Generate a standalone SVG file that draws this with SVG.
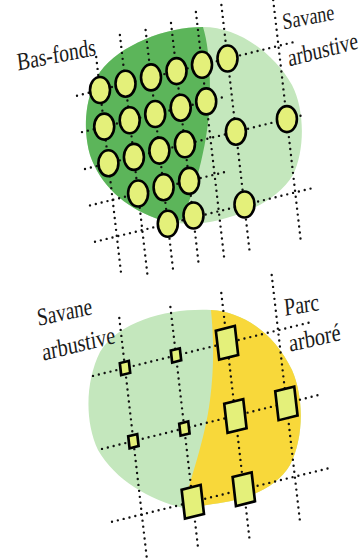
<svg xmlns="http://www.w3.org/2000/svg" width="363" height="560" viewBox="0 0 363 560">
  <style>
    .grid { fill: none; stroke: #111; stroke-width: 2.4; stroke-linecap: round; stroke-dasharray: 0 6; }
    .tree { fill: #e4f07a; stroke: #000; stroke-width: 2.6; }
    .lbl { font-family: "Liberation Serif", "DejaVu Serif", serif; font-size: 25px; fill: #1a1a1a; }
  </style>

  <!-- upper plot: lowland (dark) and shrub savanna (light) -->
  <g id="zone-top">
    <path d="M203,27 C240,27 275,55 292,85 C305,110 305,150 293,175 C278,200 245,215 210,222 C190,225 170,224 155,218 C125,207 100,185 90,155 C82,125 86,95 100,72 C120,45 165,27 203,27 Z" fill="#c4e7bd"/>
    <path d="M203,27 C165,27 120,45 100,72 C86,95 82,125 90,155 C100,185 125,207 155,218 C165,222 175,223 182,219 C195,190 210,140 210,90 C210,60 207,40 203,27 Z" fill="#5cb55a"/>
  </g>

  <!-- lower plot: shrub savanna (light) and parkland (yellow) -->
  <g id="zone-bottom">
    <path d="M211,310 C245,312 275,335 292,370 C305,400 303,440 290,465 C275,490 245,500 213,504 C200,506 190,508 183,508 C150,500 115,480 98,450 C84,420 86,380 100,352 C120,320 170,308 211,310 Z" fill="#c4e7bd"/>
    <path d="M211,310 C245,312 275,335 292,370 C305,400 303,440 290,465 C275,490 245,500 213,504 C200,506 190,508 183,508 C190,480 205,440 210,400 C214,370 214,340 211,310 Z" fill="#f8d83a"/>
  </g>

  <!-- dotted survey grid -->
  <g id="connectors" class="grid">
    <!-- upper columns -->
    <line x1="96.2" y1="57" x2="121.5" y2="277"/>
    <line x1="119.9" y1="35" x2="147.7" y2="277"/>
    <line x1="145.6" y1="30" x2="173.1" y2="270"/>
    <line x1="171" y1="23" x2="199" y2="267"/>
    <line x1="195.9" y1="12" x2="224.4" y2="260"/>
    <line x1="221.4" y1="5" x2="249.8" y2="253"/>
    <line x1="273.2" y1="0" x2="300.9" y2="242"/>
    <!-- upper rows -->
    <line x1="77" y1="95.7" x2="297" y2="41.3"/>
    <line x1="82" y1="132.1" x2="222" y2="97.5"/>
    <line x1="85" y1="169" x2="303" y2="115.1"/>
    <line x1="90" y1="205.4" x2="227" y2="171.5"/>
    <line x1="95" y1="241.8" x2="313" y2="188"/>
    <!-- lower columns -->
    <line x1="119.3" y1="318" x2="146.7" y2="557"/>
    <line x1="170.4" y1="307" x2="198.3" y2="550"/>
    <line x1="221.3" y1="293" x2="249.4" y2="538"/>
    <line x1="271.7" y1="275" x2="300.4" y2="525"/>
    <!-- lower rows -->
    <line x1="93" y1="375.9" x2="313" y2="321.6"/>
    <line x1="102" y1="448.9" x2="323" y2="393.9"/>
    <line x1="112" y1="521.8" x2="332" y2="467.4"/>
  </g>

  <!-- upper plot trees -->
  <g id="c-0-0"><ellipse class="tree" cx="100" cy="90" rx="10" ry="13"/></g>
  <g id="c-1-0"><ellipse class="tree" cx="125.5" cy="83.7" rx="10" ry="13"/></g>
  <g id="c-2-0"><ellipse class="tree" cx="151" cy="77.4" rx="10" ry="13"/></g>
  <g id="c-3-0"><ellipse class="tree" cx="176.5" cy="71.1" rx="10" ry="13"/></g>
  <g id="c-4-0"><ellipse class="tree" cx="202" cy="64.8" rx="10" ry="13"/></g>
  <g id="c-5-0"><ellipse class="tree" cx="227.5" cy="58.5" rx="10" ry="13"/></g>

  <g id="c-0-1"><ellipse class="tree" cx="104.2" cy="126.6" rx="10" ry="13"/></g>
  <g id="c-1-1"><ellipse class="tree" cx="129.7" cy="120.3" rx="10" ry="13"/></g>
  <g id="c-2-1"><ellipse class="tree" cx="155.2" cy="114" rx="10" ry="13"/></g>
  <g id="c-3-1"><ellipse class="tree" cx="180.7" cy="107.7" rx="10" ry="13"/></g>
  <g id="c-4-1"><ellipse class="tree" cx="206.2" cy="101.4" rx="10" ry="13"/></g>

  <g id="c-0-2"><ellipse class="tree" cx="108.4" cy="163.2" rx="10" ry="13"/></g>
  <g id="c-1-2"><ellipse class="tree" cx="133.9" cy="156.9" rx="10" ry="13"/></g>
  <g id="c-2-2"><ellipse class="tree" cx="159.4" cy="150.6" rx="10" ry="13"/></g>
  <g id="c-3-2"><ellipse class="tree" cx="184.9" cy="144.3" rx="10" ry="13"/></g>
  <g id="c-5-2"><ellipse class="tree" cx="235.9" cy="131.7" rx="10" ry="13"/></g>
  <g id="c-7-2"><ellipse class="tree" cx="286.9" cy="119.1" rx="10" ry="13"/></g>

  <g id="c-1-3"><ellipse class="tree" cx="138.1" cy="193.5" rx="10" ry="13"/></g>
  <g id="c-2-3"><ellipse class="tree" cx="163.6" cy="187.2" rx="10" ry="13"/></g>
  <g id="c-3-3"><ellipse class="tree" cx="189.1" cy="180.9" rx="10" ry="13"/></g>

  <g id="c-2-4"><ellipse class="tree" cx="167.8" cy="223.8" rx="10" ry="13"/></g>
  <g id="c-3-4"><ellipse class="tree" cx="193.5" cy="215.5" rx="10" ry="13"/></g>
  <g id="c-5-4"><ellipse class="tree" cx="244.5" cy="204.5" rx="10" ry="13"/></g>

  <!-- lower plot trees (sheared to follow the grid) -->
  <g id="s-0-0" transform="translate(125,368) matrix(1,-0.247,0.115,1,0,0)"><rect class="tree" x="-4.5" y="-6" width="9" height="12"/></g>
  <g id="s-1-0" transform="translate(176,355.4) matrix(1,-0.247,0.115,1,0,0)"><rect class="tree" x="-4.5" y="-6" width="9" height="12"/></g>
  <g id="s-2-0" transform="translate(227,342.8) matrix(1,-0.247,0.115,1,0,0)"><rect class="tree" x="-9.5" y="-14.5" width="19" height="29"/></g>
  <g id="s-0-1" transform="translate(133.4,441.2) matrix(1,-0.247,0.115,1,0,0)"><rect class="tree" x="-4.5" y="-6" width="9" height="12"/></g>
  <g id="s-1-1" transform="translate(184.4,428.6) matrix(1,-0.247,0.115,1,0,0)"><rect class="tree" x="-4.5" y="-6" width="9" height="12"/></g>
  <g id="s-2-1" transform="translate(235.4,416) matrix(1,-0.247,0.115,1,0,0)"><rect class="tree" x="-9.5" y="-14.5" width="19" height="29"/></g>
  <g id="s-3-1" transform="translate(286.4,403.4) matrix(1,-0.247,0.115,1,0,0)"><rect class="tree" x="-9.5" y="-14.5" width="19" height="29"/></g>
  <g id="s-1-2" transform="translate(192.8,501.8) matrix(1,-0.247,0.115,1,0,0)"><rect class="tree" x="-9.5" y="-14.5" width="19" height="29"/></g>
  <g id="s-2-2" transform="translate(243.8,489.2) matrix(1,-0.247,0.115,1,0,0)"><rect class="tree" x="-9.5" y="-14.5" width="19" height="29"/></g>

  <!-- labels: condensed serif, tilted along the grid -->
  <g id="labels" class="lbl">
    <text transform="translate(18,70.5) scale(0.78,1) rotate(-8.7)" textLength="102" lengthAdjust="spacingAndGlyphs">Bas-fonds</text>
    <text transform="translate(283.3,29.5) scale(0.78,1) rotate(-8.5)" font-size="23" textLength="67" lengthAdjust="spacingAndGlyphs">Savane</text>
    <text transform="translate(289.3,66.5) scale(0.78,1) rotate(-11.5)" textLength="91" lengthAdjust="spacingAndGlyphs">arbustive</text>
    <text transform="translate(38.3,326) scale(0.78,1) rotate(-9.7)" textLength="71" lengthAdjust="spacingAndGlyphs">Savane</text>
    <text transform="translate(43.3,360.7) scale(0.78,1) rotate(-10.8)" textLength="95" lengthAdjust="spacingAndGlyphs">arbustive</text>
    <text transform="translate(285,315.7) scale(0.78,1) rotate(-7.2)" textLength="45" lengthAdjust="spacingAndGlyphs">Parc</text>
    <text transform="translate(290,351.7) scale(0.78,1) rotate(-10)" textLength="67" lengthAdjust="spacingAndGlyphs">arboré</text>
  </g>
</svg>
